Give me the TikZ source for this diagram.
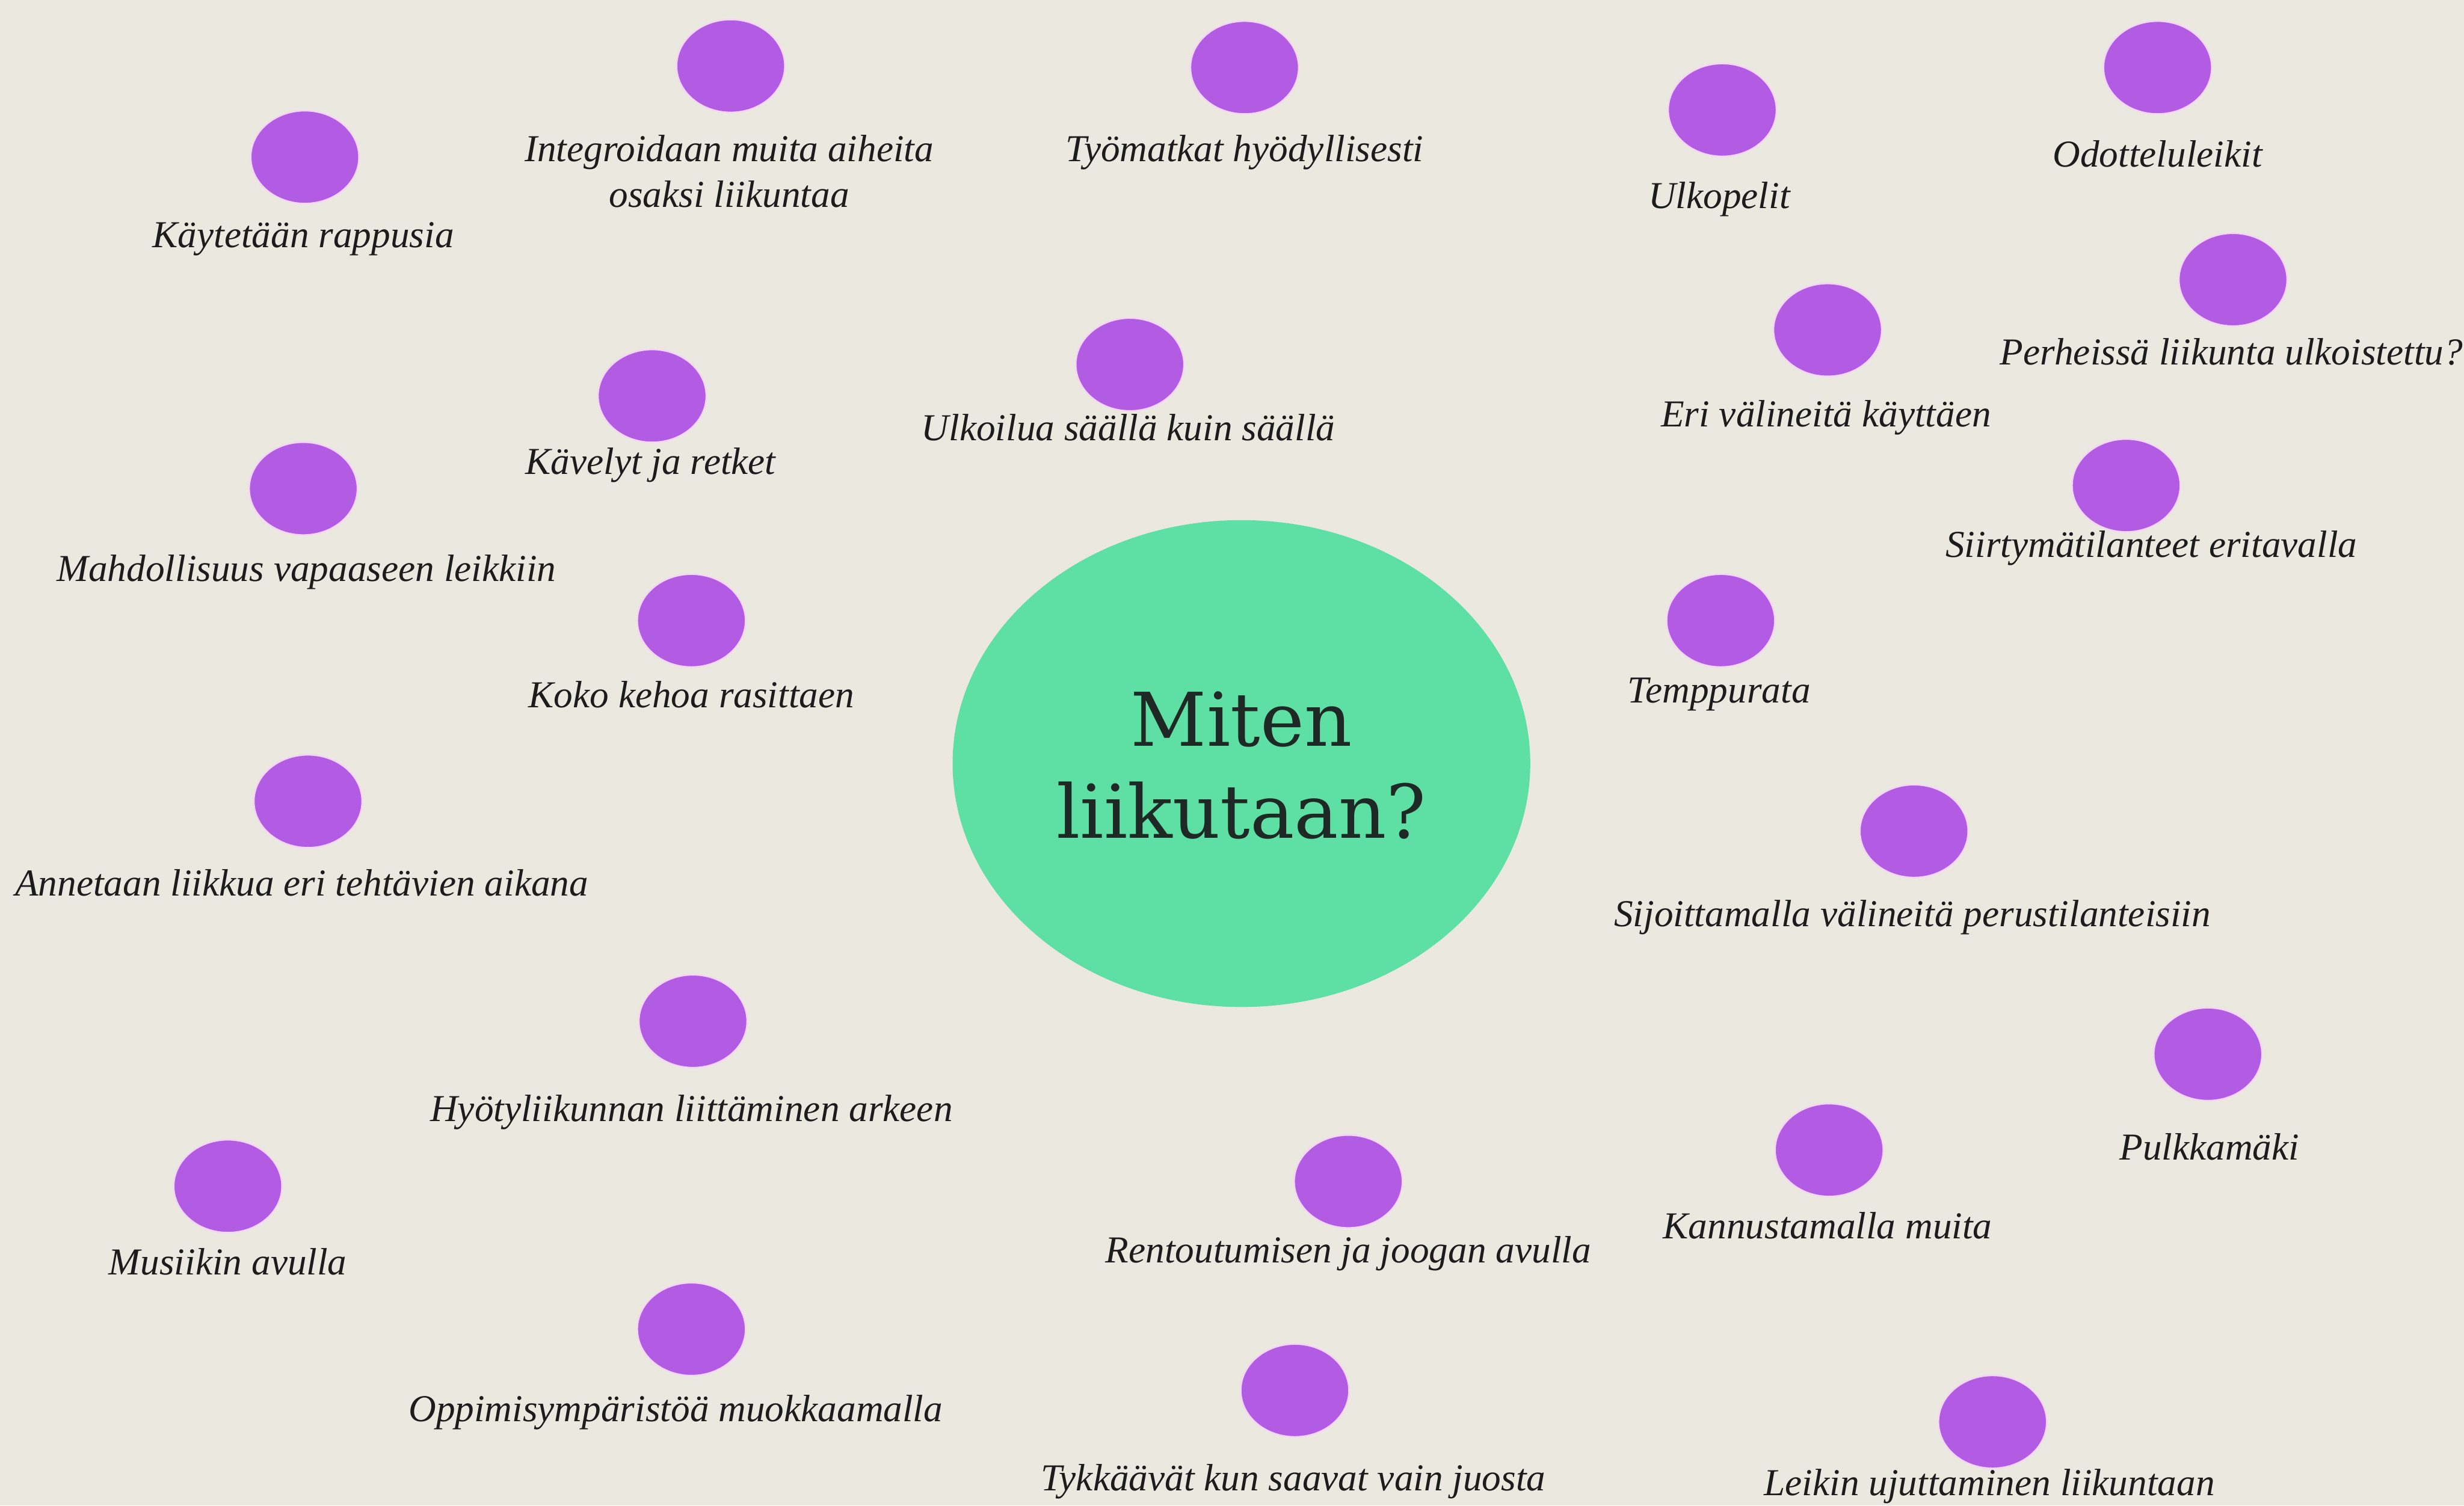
\documentclass[tikz,border=0pt]{standalone}
\usepackage{fontspec}
\setmainfont{Liberation Serif}
\newfontfamily\titlefont{DejaVu Serif}
\usetikzlibrary{shapes.geometric}
\definecolor{bgc}{RGB}{235,232,224}
\definecolor{dotc}{RGB}{178,92,228}
\definecolor{halo}{RGB}{244,214,248}
\definecolor{hubc}{RGB}{94,224,164}
\definecolor{txtc}{RGB}{28,28,28}
\begin{document}
\begin{tikzpicture}[x=0.027551cm,y=-0.027551cm,
  dot/.style={ellipse,fill=dotc,draw=halo,line width=0.8pt,minimum width=1.90cm,minimum height=1.63cm,inner sep=0pt},
  lbl/.style={font=\fontsize{19}{23}\selectfont\itshape,text=txtc,inner sep=0pt,align=center},
  hub/.style={ellipse,fill=hubc,minimum width=10.13cm,minimum height=8.54cm,inner sep=0pt}]
\fill[bgc] (0,0) rectangle (1568,958.2);
\useasboundingbox (0,0) rectangle (1568,958.2);
\clip (0,0) rectangle (1568,958.2);
% hub
\node[hub] (hub) at (790,486) {};
\node[font=\fontsize{37}{44}\selectfont\titlefont,text={rgb,255:red,30;green,40;blue,36},align=center,inner sep=0pt] (title) at (790,487) {Miten\\[2pt]liikutaan?};
% dots and labels
\node[dot] (d1) at (194,100) {};  \node[lbl] (l1) at (193,152) {Käytetään rappusia};
\node[dot] (d2) at (465,42) {};   \node[lbl] (l2) at (464,109) {Integroidaan muita aiheita\\osaksi liikuntaa};
\node[dot] (d3) at (792,43) {};   \node[lbl] (l3) at (792,97) {Työmatkat hyödyllisesti};
\node[dot] (d4) at (1096,70) {};  \node[lbl] (l4) at (1094,127) {Ulkopelit};
\node[dot] (d5) at (1373,43) {};  \node[lbl] (l5) at (1373,98) {Odotteluleikit};
\node[dot] (d6) at (1421,178) {}; \node[lbl] (l6) at (1420,224) {Perheissä liikunta ulkoistettu?};
\node[dot] (d7) at (1163,210) {}; \node[lbl] (l7) at (1162,266) {Eri välineitä käyttäen};
\node[dot] (d8) at (719,232) {};  \node[lbl] (l8) at (718,272) {Ulkoilua säällä kuin säällä};
\node[dot] (d9) at (415,252) {};  \node[lbl] (l9) at (414,296) {Kävelyt ja retket};
\node[dot] (d10) at (193,311) {}; \node[lbl] (l10) at (195,364) {Mahdollisuus vapaaseen leikkiin};
\node[dot] (d11) at (1353,309) {};\node[lbl] (l11) at (1369,349) {Siirtymätilanteet eritavalla};
\node[dot] (d12) at (440,395) {}; \node[lbl] (l12) at (440,442) {Koko kehoa rasittaen};
\node[dot] (d13) at (1095,395) {};\node[lbl] (l13) at (1094,442) {Temppurata};
\node[dot] (d14) at (196,510) {}; \node[lbl] (l14) at (192,562) {Annetaan liikkua eri tehtävien aikana};
\node[dot] (d15) at (1218,529) {};\node[lbl] (l15) at (1217,584) {Sijoittamalla välineitä perustilanteisiin};
\node[dot] (d16) at (441,650) {}; \node[lbl] (l16) at (440,708) {Hyötyliikunnan liittäminen arkeen};
\node[dot] (d17) at (1405,671) {};\node[lbl] (l17) at (1406,730) {Pulkkamäki};
\node[dot] (d18) at (1164,732) {};\node[lbl] (l18) at (1163,780) {Kannustamalla muita};
\node[dot] (d19) at (858,752) {}; \node[lbl] (l19) at (858,798) {Rentoutumisen ja joogan avulla};
\node[dot] (d20) at (145,755) {}; \node[lbl] (l20) at (145,803) {Musiikin avulla};
\node[dot] (d21) at (440,846) {}; \node[lbl] (l21) at (430,899) {Oppimisympäristöä muokkaamalla};
\node[dot] (d22) at (824,885) {}; \node[lbl] (l22) at (823,943) {Tykkäävät kun saavat vain juosta};
\node[dot] (d23) at (1268,905) {};\node[lbl] (l23) at (1266,946) {Leikin ujuttaminen liikuntaan};
\end{tikzpicture}
\end{document}
